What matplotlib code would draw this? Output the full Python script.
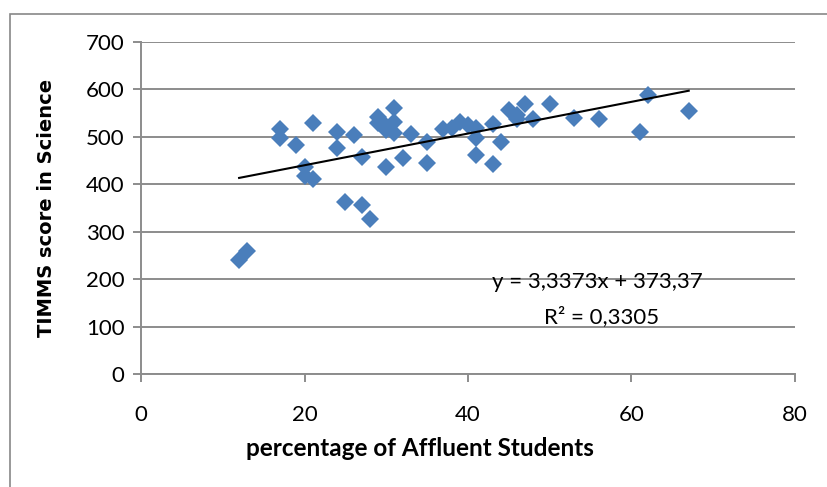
import matplotlib.pyplot as plt
from matplotlib.patches import Rectangle

# percentage of affluent students vs TIMMS science score
affluent = [12, 13, 17, 17, 19, 20, 20, 21, 21, 24, 24, 25, 26, 27, 27, 28,
            29, 29, 30, 30, 30, 31, 31, 31, 32, 33, 35, 35, 37, 38, 39, 40,
            41, 41, 41, 43, 43, 44, 45, 46, 46, 47, 48, 50, 53, 56, 61, 62, 67]
science = [240, 260, 517, 497, 483, 436, 418, 528, 412, 510, 476, 363, 503, 458, 357, 326,
           541, 528, 522, 514, 437, 560, 532, 507, 455, 505, 490, 444, 516, 519, 532, 524,
           518, 498, 461, 526, 443, 490, 556, 546, 537, 570, 537, 569, 539, 537, 511, 588, 554]

slope = 3.3373
intercept = 373.37
r2 = 0.3305

plt.rcParams['font.family'] = ['Lato', 'DejaVu Sans']

fig = plt.figure(figsize=(8.27, 4.87), dpi=100)
fig.patches.append(Rectangle((10 / 827, -0.1), 1.1, 1 - 14 / 487 + 0.1,
                             transform=fig.transFigure, fill=False,
                             edgecolor='#888888', linewidth=1.2))

ax = fig.add_axes([0.1705, 0.2314, 0.7908, 0.6828])
ax.set_xlim(0, 80)
ax.set_ylim(0, 700)
ax.set_xticks(range(0, 81, 20))
ax.set_yticks(range(0, 701, 100))
ax.grid(axis='y', color='#8c8c8c', linewidth=1.4)
ax.set_axisbelow(True)
for side in ['top', 'right']:
    ax.spines[side].set_visible(False)
for side in ['left', 'bottom']:
    ax.spines[side].set_color('#8c8c8c')
    ax.spines[side].set_linewidth(1.4)
ax.tick_params(axis='both', color='#8c8c8c', width=1.4, length=6, labelsize=16,
               labelcolor='black')
ax.tick_params(axis='x', pad=16)
ax.tick_params(axis='y', pad=6)

ax.plot(affluent, science, linestyle='none', marker='D', markersize=9.4,
        color='#4a7ebb', markeredgewidth=0, zorder=3)

xs = [min(affluent), max(affluent)]
ax.plot(xs, [slope * v + intercept for v in xs], color='black', linewidth=1.5, zorder=4)

eq = 'y = ' + f'{slope:.4f}'.replace('.', ',') + 'x + ' + f'{intercept:.2f}'.replace('.', ',')
ax.text(55.8, 194, eq, ha='center', va='center', fontsize=16)
ax.text(56.3, 121, 'R² = ' + f'{r2:.4f}'.replace('.', ','), ha='center', va='center',
        fontsize=16)

ax.set_xlabel('percentage of Affluent Students', fontsize=17.5, fontweight='bold')
ax.xaxis.set_label_coords(0.4266, -0.19)
ax.set_ylabel('TIMMS score in Science', fontsize=14, fontweight='bold',
              family=['DejaVu Sans'])
ax.yaxis.set_label_coords(-0.13, 0.5)

fig.savefig('out.png', dpi=100)
